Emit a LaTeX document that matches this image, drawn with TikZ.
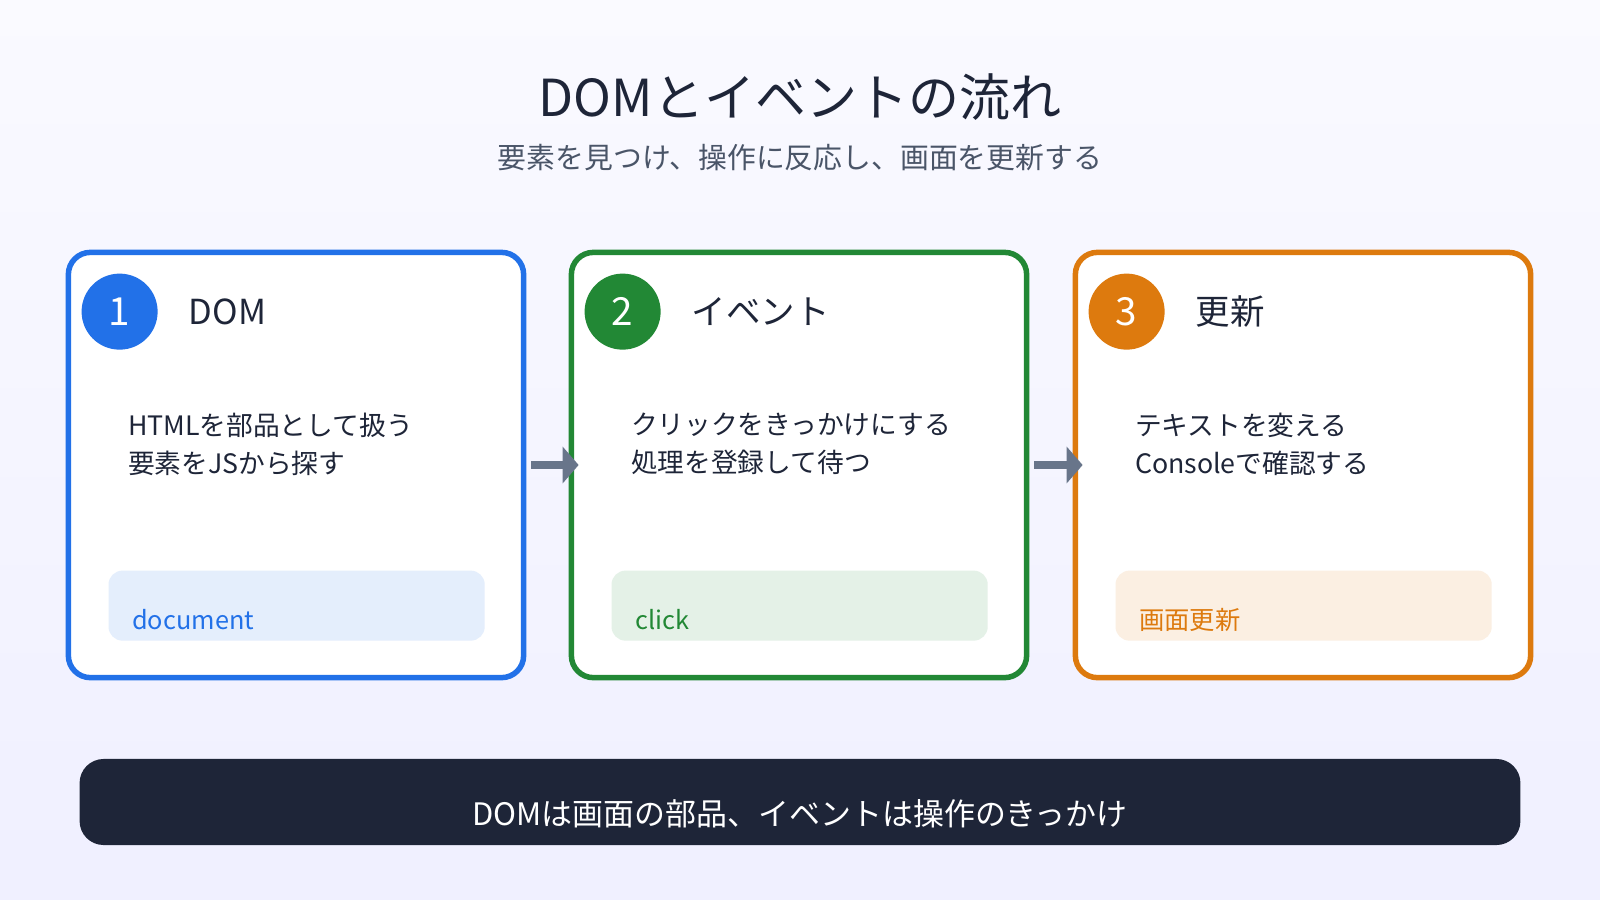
\documentclass[tikz,border=0pt]{standalone}
\usepackage{fontspec}
\setmainfont{Noto Sans CJK JP}
\usetikzlibrary{arrows.meta,positioning,calc}
\definecolor{ink}{HTML}{1E2538}
\definecolor{sub}{HTML}{4A5568}
\definecolor{cblue}{HTML}{2271E8}
\definecolor{cgreen}{HTML}{228835}
\definecolor{corange}{HTML}{DD7A0E}
\definecolor{arrowgray}{HTML}{68758A}
\tikzset{
  card/.style={draw=#1, line width=0.055cm, rounded corners=0.22cm, fill=white,
    minimum width=4.55cm, minimum height=4.25cm, inner sep=0},
  badge/.style={circle, fill=#1, minimum size=0.76cm, inner sep=0, text=white,
    font=\fontsize{11}{11}\selectfont},
  head/.style={anchor=west, text=ink, font=\fontsize{9.8}{10}\selectfont},
  body/.style={anchor=north west, align=left, text=ink,
    font=\fontsize{7.6}{10.8}\selectfont},
  pill/.style={fill=#1, rounded corners=0.14cm, minimum width=3.76cm, minimum height=0.7cm, inner sep=0},
  tag/.style={anchor=west, text=#1, font=\fontsize{7.2}{8}\selectfont},
  flow/.style={draw=arrowgray, line width=0.08cm, -{Triangle[length=0.16cm,width=0.36cm]},
    shorten <=0.05cm, shorten >=-0.1cm}
}
\begin{document}
\begin{tikzpicture}[x=0.01cm, y=-0.01cm]
\fill[top color=white!50!blue!4, bottom color=blue!6] (0,0) rectangle (1600,900);
\useasboundingbox (0,0) rectangle (1600,900);
% title
\node[text=ink, font=\fontsize{14.5}{15}\selectfont] (title) at (800,97) {DOMとイベントの流れ};
\node[text=sub, font=\fontsize{8.2}{9}\selectfont] (subtitle) at (800,158) {要素を見つけ、操作に反応し、画面を更新する};
% cards
\node[card=cblue] (b1) at (296,465) {};
\node[card=cgreen] (b2) at (799,465) {};
\node[card=corange] (b3) at (1303,465) {};
\foreach \b/\c/\n/\t in {b1/cblue/1/DOM, b2/cgreen/2/イベント, b3/corange/3/更新}{
  \node[badge=\c] (\b n) at ($(\b.north west)+(54,62)$) {\n};
  \node[head, right=0.18cm of \b n] (\b h) {\t};
}
\node[body] (b1t) at ($(b1.north west)+(50,151)$) {HTMLを部品として扱う\\要素をJSから探す};
\node[body] (b2t) at ($(b2.north west)+(50,151)$) {クリックをきっかけにする\\処理を登録して待つ};
\node[body] (b3t) at ($(b3.north west)+(50,151)$) {テキストを変える\\Consoleで確認する};
\node[pill=cblue!12] (b1p) at ($(b1.north west)+(231,356)$) {};
\node[pill=cgreen!12] (b2p) at ($(b2.north west)+(231,356)$) {};
\node[pill=corange!12] (b3p) at ($(b3.north west)+(231,356)$) {};
\node[tag=cblue] at ($(b1p.west)+(12,14)$) {document};
\node[tag=cgreen] at ($(b2p.west)+(12,14)$) {click};
\node[tag=corange] at ($(b3p.west)+(12,14)$) {画面更新};
% arrows
\draw[flow] (b1.east) -- (b2.west);
\draw[flow] (b2.east) -- (b3.west);
% summary bar
\node[fill=ink, rounded corners=0.24cm, minimum width=14.4cm, minimum height=0.86cm, inner sep=0] (bar) at (800,802) {};
\node[text=white, font=\fontsize{8.8}{9}\selectfont] at ($(bar.center)+(0,12)$) {DOMは画面の部品、イベントは操作のきっかけ};
\end{tikzpicture}
\end{document}
